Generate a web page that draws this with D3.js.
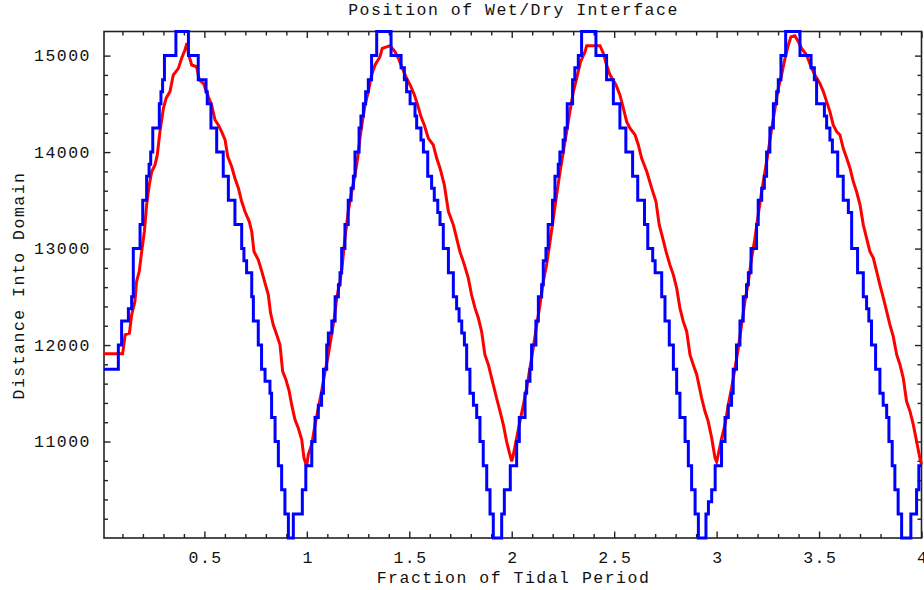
<!DOCTYPE html>
<html>
<head>
<meta charset="utf-8">
<script src="https://cdn.jsdelivr.net/npm/d3@7"></script>
<style>
  body { margin: 0; background: #ffffff; }
  text { font-family: "Liberation Mono", "Courier New", monospace; fill: #111; }
</style>
</head>
<body>
<div id="chart"></div>
<script>
// blue series: step positions (fraction of tidal period) and distance after the step
const blueTime = [
  0.01, 0.080, 0.096, 0.129, 0.145, 0.153, 0.186, 0.199, 0.218, 0.230, 0.238, 0.248, 0.280, 0.288, 0.296, 0.305,
  0.361, 0.422, 0.470, 0.508, 0.514, 0.532, 0.560, 0.592, 0.617, 0.649, 0.682, 0.693, 0.706, 0.731, 0.739, 0.763,
  0.779, 0.796, 0.820, 0.828, 0.845, 0.861, 0.877, 0.893, 0.910, 0.934, 0.978, 0.995,
  1.024, 1.040, 1.056, 1.072, 1.081, 1.097, 1.105, 1.122, 1.138, 1.154, 1.162, 1.170, 1.186, 1.202, 1.216, 1.227,
  1.235, 1.255, 1.264, 1.276, 1.287, 1.300, 1.316, 1.341, 1.411, 1.460, 1.476, 1.487, 1.504, 1.528, 1.536, 1.557,
  1.569, 1.590, 1.609, 1.622, 1.639, 1.650, 1.666, 1.691, 1.715, 1.731, 1.743, 1.756, 1.769, 1.780, 1.796, 1.813,
  1.829, 1.845, 1.861, 1.878, 1.894, 1.910, 1.951, 1.964, 1.993,
  2.024, 2.037, 2.065, 2.073, 2.089, 2.097, 2.118, 2.130, 2.146, 2.154, 2.167, 2.178, 2.199, 2.211, 2.227, 2.235,
  2.251, 2.260, 2.271, 2.297, 2.308, 2.325, 2.341, 2.411, 2.463, 2.496, 2.528, 2.557, 2.590, 2.615, 2.648, 2.664,
  2.688, 2.700, 2.732, 2.748, 2.769, 2.789, 2.805, 2.821, 2.846, 2.862, 2.878, 2.895, 2.911, 2.948, 2.960, 2.976, 2.993,
  3.024, 3.041, 3.057, 3.073, 3.081, 3.097, 3.114, 3.130, 3.146, 3.155, 3.168, 3.195, 3.203, 3.220, 3.233, 3.244,
  3.260, 3.277, 3.293, 3.301, 3.314, 3.337, 3.407, 3.461, 3.477, 3.488, 3.526, 3.537, 3.553, 3.565, 3.591, 3.618,
  3.643, 3.659, 3.688, 3.716, 3.732, 3.743, 3.756, 3.776, 3.797, 3.813, 3.830, 3.841, 3.857, 3.870, 3.886, 3.903,
  3.948, 3.976, 3.987, 4.0
]
const blueDist = [
  11750, 12000, 12250, 12375, 12500, 13000, 13250, 13500, 13750, 13875, 14000, 14250, 14500, 14625, 14750, 15000,
  15250, 15000, 14750, 14625, 14500, 14250, 14000, 13750, 13500, 13250, 13000, 12875, 12750, 12500, 12250, 12000,
  11750, 11625, 11500, 11250, 11000, 10750, 10500, 10250, 10000, 10250, 10500, 10750,
  11000, 11250, 11375, 11500, 11750, 12000, 12125, 12250, 12500, 12625, 12750, 13000, 13250, 13500, 13625, 13750,
  14000, 14250, 14375, 14500, 14625, 14750, 15000, 15250, 15000, 14875, 14750, 14625, 14500, 14375, 14250, 14125,
  14000, 13750, 13625, 13500, 13375, 13250, 13000, 12750, 12500, 12375, 12250, 12125, 12000, 11750, 11500, 11375,
  11250, 11000, 10750, 10500, 10250, 10000, 10250, 10500, 10750,
  11000, 11250, 11500, 11625, 11750, 12000, 12250, 12500, 12625, 12875, 13000, 13250, 13500, 13750, 13875, 14000,
  14125, 14250, 14500, 14750, 14875, 15000, 15250, 15000, 14750, 14500, 14250, 14000, 13750, 13500, 13250, 13000,
  12875, 12750, 12500, 12250, 12000, 11750, 11500, 11250, 11000, 10750, 10500, 10250, 10000, 10250, 10375, 10500, 10750,
  11000, 11250, 11375, 11500, 11750, 12000, 12250, 12500, 12625, 12750, 13000, 13250, 13500, 13625, 13750, 14000,
  14250, 14500, 14625, 14750, 15000, 15250, 15000, 14875, 14750, 14500, 14375, 14250, 14125, 14000, 13750, 13500,
  13375, 13000, 12750, 12500, 12375, 12250, 12000, 11750, 11500, 11375, 11250, 11000, 10750, 10500, 10250, 10000,
  10250, 10500, 10750, 10750
]

// red series
const redTime = [
  0.01, 0.101, 0.113, 0.134, 0.145, 0.161, 0.169, 0.182, 0.194, 0.207, 0.218, 0.231, 0.243, 0.259, 0.270, 0.283,
  0.300, 0.313, 0.332, 0.348, 0.373, 0.389, 0.405, 0.415, 0.424, 0.438, 0.462, 0.475, 0.495, 0.519, 0.535, 0.552,
  0.568, 0.584, 0.601, 0.614, 0.633, 0.649, 0.666, 0.682, 0.698, 0.719, 0.731, 0.742, 0.763, 0.780, 0.796, 0.812,
  0.823, 0.836, 0.853, 0.869, 0.882, 0.898, 0.914, 0.926, 0.942, 0.958, 0.975, 0.986, 0.999,
  1.007, 1.024, 1.040, 1.056, 1.072, 1.089, 1.105, 1.118, 1.134, 1.146, 1.162, 1.173, 1.186, 1.202, 1.219, 1.235,
  1.248, 1.259, 1.271, 1.284, 1.300, 1.316, 1.333, 1.357, 1.368, 1.406, 1.430, 1.447, 1.463, 1.487, 1.508, 1.525,
  1.541, 1.557, 1.573, 1.593, 1.617, 1.634, 1.650, 1.671, 1.691, 1.715, 1.731, 1.747, 1.769, 1.788, 1.804, 1.821,
  1.837, 1.853, 1.869, 1.886, 1.902, 1.926, 1.943, 1.959, 1.975, 1.987, 2.000,
  2.008, 2.024, 2.040, 2.057, 2.073, 2.089, 2.105, 2.122, 2.138, 2.154, 2.170, 2.187, 2.203, 2.219, 2.236, 2.252,
  2.268, 2.284, 2.301, 2.317, 2.336, 2.358, 2.366, 2.431, 2.447, 2.463, 2.480, 2.509, 2.528, 2.545, 2.561, 2.577,
  2.602, 2.618, 2.634, 2.659, 2.683, 2.704, 2.720, 2.737, 2.753, 2.772, 2.789, 2.805, 2.821, 2.837, 2.854, 2.870,
  2.886, 2.903, 2.927, 2.943, 2.959, 2.976, 2.992,
  3.000, 3.008, 3.025, 3.041, 3.057, 3.073, 3.090, 3.106, 3.122, 3.138, 3.155, 3.171, 3.187, 3.203, 3.220, 3.236,
  3.252, 3.269, 3.285, 3.301, 3.317, 3.334, 3.350, 3.363, 3.382, 3.399, 3.415, 3.439, 3.464, 3.480, 3.504, 3.521,
  3.537, 3.553, 3.569, 3.586, 3.602, 3.618, 3.635, 3.651, 3.667, 3.683, 3.700, 3.716, 3.732, 3.748, 3.765, 3.781,
  3.797, 3.814, 3.830, 3.846, 3.862, 3.879, 3.895, 3.911, 3.927, 3.944, 3.960, 3.976, 3.992, 4.0
]
const redDist = [
  11910, 11910, 12107, 12124, 12314, 12452, 12659, 12763, 12970, 13177, 13453, 13660, 13798, 13867, 13971, 14212,
  14454, 14557, 14627, 14799, 14868, 14972, 15058, 15130, 15006, 14903, 14885, 14747, 14713, 14575, 14489, 14333,
  14282, 14212, 14126, 13954, 13850, 13729, 13626, 13487, 13384, 13280, 13177, 12970, 12883, 12763, 12642, 12521,
  12331, 12210, 12107, 12003, 11727, 11641, 11520, 11382, 11227, 11140, 11020, 10830, 10740,
  10864, 10968, 11175, 11347, 11520, 11727, 11900, 12072, 12280, 12487, 12659, 12831, 13108, 13384, 13591, 13764,
  13936, 14143, 14316, 14488, 14627, 14799, 14903, 14989, 15075, 15103, 15041, 14972, 14885, 14765, 14678, 14592,
  14488, 14368, 14282, 14143, 14074, 13936, 13833, 13660, 13384, 13246, 13108, 12970, 12831, 12694, 12521, 12383,
  12280, 12141, 11900, 11796, 11658, 11451, 11313, 11175, 11002, 10898, 10795,
  10864, 11037, 11209, 11382, 11554, 11762, 11969, 12210, 12417, 12659, 12831, 13073, 13315, 13556, 13798, 14005,
  14212, 14420, 14627, 14765, 14937, 15041, 15103, 15103, 15024, 14903, 14799, 14696, 14592, 14454, 14316, 14247,
  14178, 14074, 13936, 13798, 13626, 13487, 13246, 13108, 12970, 12831, 12728, 12590, 12383, 12245, 12141, 11900,
  11796, 11693, 11451, 11313, 11209, 11037, 10830,
  10790, 10864, 11037, 11175, 11382, 11554, 11762, 11969, 12210, 12452, 12659, 12901, 13108, 13349, 13591, 13798,
  14005, 14247, 14454, 14661, 14799, 14972, 15110, 15196, 15206, 15144, 15075, 15006, 14868, 14799, 14713, 14627,
  14523, 14420, 14282, 14212, 14178, 14040, 13936, 13833, 13695, 13591, 13453, 13246, 13108, 12970, 12901, 12763,
  12624, 12487, 12349, 12210, 12090, 11900, 11796, 11658, 11417, 11313, 11175, 11002, 10830, 10760
]

const xMajorTicks = [0.5, 1, 1.5, 2, 2.5, 3, 3.5, 4]
const yMajorTicks = [11000, 12000, 13000, 14000, 15000]

const titleText = "Position of Wet/Dry Interface"
const xLabelText = "Fraction of Tidal Period"
const yLabelText = "Distance Into Domain"

const width = 924
const height = 590
const plot = { left: 104, right: 921.5, top: 31.5, bottom: 538 }
const FONT_SIZE = 16.5
const LETTER_SP = 1.5

let svg = d3.select("#chart")
  .append("svg")
  .attr("width", width)
  .attr("height", height)

svg.append("rect")
  .attr("width", width)
  .attr("height", height)
  .attr("fill", "#ffffff")

let xScale = d3.scaleLinear().domain([0.01, 4]).range([plot.left, plot.right])
let yScale = d3.scaleLinear().domain([10000, 15250]).range([plot.bottom, plot.top])

// minor ticks (every 0.1 in x, every 200 in y), skipping the majors
let xMinorTicks = d3.range(1, 40).map(i => i / 10).filter(v => Math.abs(v * 2 - Math.round(v * 2)) > 1e-6)
let yMinorTicks = d3.range(51, 76).map(i => i * 200).filter(v => v % 1000 !== 0)

function addAxis(axisFn, scale, values, size, translate, withLabels, padding) {
  let ax = axisFn(scale)
    .tickValues(values)
    .tickSizeInner(-size)
    .tickSizeOuter(0)
    .tickPadding(padding || 0)
  if (!withLabels) ax.tickFormat("")
  else ax.tickFormat(d3.format("~g"))
  let g = svg.append("g")
    .attr("transform", translate)
    .call(ax)
  g.select(".domain").remove()
  g.selectAll(".tick line").attr("stroke", "#222").attr("stroke-width", 1.4)
  g.selectAll(".tick text")
    .style("font-size", FONT_SIZE + "px")
    .style("font-family", "'Liberation Mono', 'Courier New', monospace")
    .style("letter-spacing", LETTER_SP + "px")
    .attr("fill", "#111")
  return g
}

// bottom
let bottomG = addAxis(d3.axisBottom, xScale, xMajorTicks, 6.5, "translate(0," + plot.bottom + ")", true, 13)
bottomG.selectAll(".tick text").attr("dx", LETTER_SP / 2)
addAxis(d3.axisBottom, xScale, xMinorTicks, 4, "translate(0," + plot.bottom + ")", false)
// top
addAxis(d3.axisTop, xScale, xMajorTicks, 6.5, "translate(0," + plot.top + ")", false)
addAxis(d3.axisTop, xScale, xMinorTicks, 4, "translate(0," + plot.top + ")", false)
// left
let leftG = addAxis(d3.axisLeft, yScale, yMajorTicks, 6.5, "translate(" + plot.left + ",0)", true, 13)
addAxis(d3.axisLeft, yScale, yMinorTicks, 4, "translate(" + plot.left + ",0)", false)
// right
addAxis(d3.axisRight, yScale, yMajorTicks, 6.5, "translate(" + plot.right + ",0)", false)
addAxis(d3.axisRight, yScale, yMinorTicks, 4, "translate(" + plot.right + ",0)", false)

// frame
svg.append("rect")
  .attr("x", plot.left)
  .attr("y", plot.top)
  .attr("width", plot.right - plot.left)
  .attr("height", plot.bottom - plot.top)
  .attr("fill", "none")
  .attr("stroke", "#222")
  .attr("stroke-width", 1.6)

let redData = redTime.map((t, i) => [t, redDist[i]])
let blueData = blueTime.map((t, i) => [t, blueDist[i]])

let redLine = d3.line()
  .x(d => xScale(d[0]))
  .y(d => yScale(d[1]))

let blueLine = d3.line()
  .x(d => xScale(d[0]))
  .y(d => yScale(d[1]))
  .curve(d3.curveStepAfter)

svg.append("path")
  .datum(redData)
  .attr("d", redLine)
  .attr("fill", "none")
  .attr("stroke", "#ff0000")
  .attr("stroke-width", 3)

svg.append("path")
  .datum(blueData)
  .attr("d", blueLine)
  .attr("fill", "none")
  .attr("stroke", "#0000ff")
  .attr("stroke-width", 3)

// titles
svg.append("text")
  .attr("x", (plot.left + plot.right) / 2 + LETTER_SP / 2)
  .attr("y", 14.5)
  .attr("text-anchor", "middle")
  .style("font-size", FONT_SIZE + "px")
  .style("letter-spacing", LETTER_SP + "px")
  .text(titleText)

svg.append("text")
  .attr("x", (plot.left + plot.right) / 2 + LETTER_SP / 2)
  .attr("y", 583)
  .attr("text-anchor", "middle")
  .style("font-size", FONT_SIZE + "px")
  .style("letter-spacing", LETTER_SP + "px")
  .text(xLabelText)

svg.append("text")
  .attr("transform", "translate(24," + ((plot.top + plot.bottom) / 2 + LETTER_SP / 2) + ") rotate(-90)")
  .attr("text-anchor", "middle")
  .style("font-size", FONT_SIZE + "px")
  .style("letter-spacing", LETTER_SP + "px")
  .text(yLabelText)
</script>
</body>
</html>
